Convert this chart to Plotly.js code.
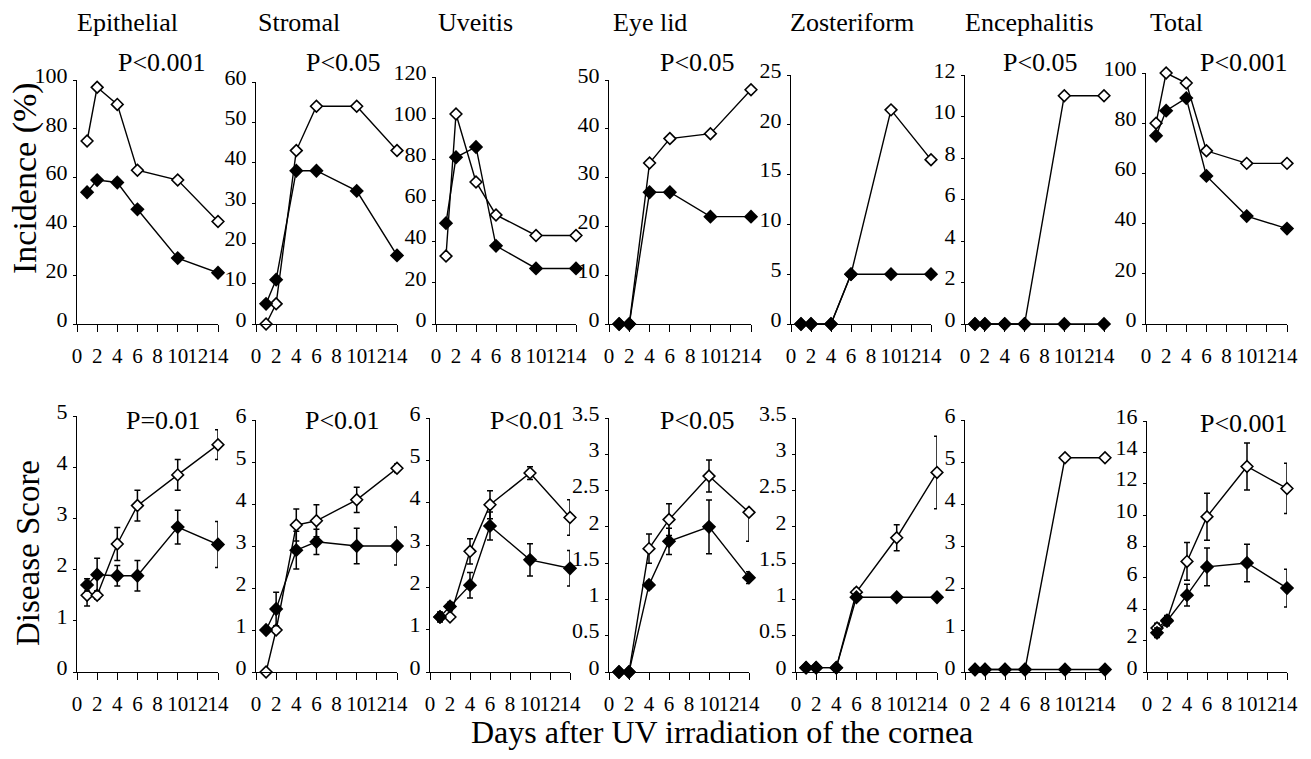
<!DOCTYPE html>
<html><head><meta charset="utf-8">
<script src="https://cdn.plot.ly/plotly-3.0.1.min.js"></script>
<style>
html,body{margin:0;padding:0;background:#fff}
#c{width:1311px;height:759px}
#c text{font-family:'Liberation Serif',serif !important;}
</style>
</head><body><div id="c"></div>
<script>
// ---------- DATA ----------
const days = [1, 2, 4, 6, 10, 14];
const xTicks = [0, 2, 4, 6, 8, 10, 12, 14];
const panelNames = ['Epithelial', 'Stromal', 'Uveitis', 'Eye lid', 'Zosteriform', 'Encephalitis', 'Total'];
const incPText = ['P<0.001', 'P<0.05', '', 'P<0.05', '', 'P<0.05', 'P<0.001'];
const dsPText = ['P=0.01', 'P<0.01', 'P<0.01', 'P<0.05', '', '', 'P<0.001'];
const incMax = [100, 60, 120, 50, 25, 12, 100];
const incStep = [20, 10, 20, 10, 5, 2, 20];
const dsMax = [5, 6, 6, 3.5, 3.5, 6, 16];
const dsStep = [1, 1, 1, 0.5, 0.5, 1, 2];

// Incidence (%) — open diamonds / filled diamonds
const incEpiOpen = [75, 97, 90, 63, 59, 42];
const incEpiFilled = [54, 59, 58, 47, 27, 21];
const incStrOpen = [0, 5, 43, 54, 54, 43];
const incStrFilled = [5, 11, 38, 38, 33, 17];
const incUveOpen = [33, 102, 69, 53, 43, 43];
const incUveFilled = [49, 81, 86, 38, 27, 27];
const incLidOpen = [0, 0, 33, 38, 39, 48];
const incLidFilled = [0, 0, 27, 27, 22, 22];
const incZosOpen = [0, 0, 0, 5, 21.5, 16.5];
const incZosFilled = [0, 0, 0, 5, 5, 5];
const incEncOpen = [0, 0, 0, 0, 11, 11];
const incEncFilled = [0, 0, 0, 0, 0, 0];
const incTotOpen = [80, 100, 96, 69, 64, 64];
const incTotFilled = [75, 85, 90, 59, 43, 38];

// Disease score — values and error bars (plus / minus)
const dsEpiOpen = [1.5, 1.5, 2.5, 3.25, 3.85, 4.44];
const dsEpiOpenErr = [0.21, 0.08, 0.32, 0.3, 0.3, 0.29];
const dsEpiFilled = [1.7, 1.9, 1.88, 1.88, 2.83, 2.49];
const dsEpiFilledErr = [0.12, 0.32, 0.2, 0.3, 0.33, 0.45];
const dsStrOpen = [0, 1.0, 3.5, 3.6, 4.1, 4.85];
const dsStrOpenErr = [0, 0.08, 0.38, 0.38, 0.3, 0.1];
const dsStrFilled = [1.0, 1.5, 2.9, 3.1, 3.0, 3.0];
const dsStrFilledErr = [0.05, 0.4, 0.45, 0.3, 0.42, 0.45];
const dsUveOpen = [1.3, 1.3, 2.85, 3.95, 4.7, 3.65];
const dsUveOpenErr = [0.1, 0.05, 0.3, 0.33, 0.15, 0.42];
const dsUveFilled = [1.3, 1.55, 2.05, 3.45, 2.65, 2.45];
const dsUveFilledErr = [0.12, 0.1, 0.3, 0.33, 0.38, 0.42];
const dsLidOpen = [0, 0, 1.7, 2.1, 2.7, 2.2];
const dsLidOpenErrPlus = [0, 0, 0.2, 0.22, 0.22, 0.05];
const dsLidOpenErrMinus = [0, 0, 0.2, 0.22, 0.22, 0.4];
const dsLidFilled = [0, 0, 1.2, 1.8, 2.0, 1.3];
const dsLidFilledErr = [0, 0, 0.05, 0.18, 0.37, 0.08];
const dsZosOpen = [0.06, 0.06, 0.06, 1.1, 1.85, 2.75];
const dsZosOpenErr = [0, 0, 0, 0.05, 0.18, 0.5];
const dsZosFilled = [0.06, 0.06, 0.06, 1.03, 1.03, 1.03];
const dsZosFilledErr = [0, 0, 0, 0.03, 0.03, 0.03];
const dsEncOpen = [0.06, 0.06, 0.06, 0.06, 5.1, 5.1];
const dsEncFilled = [0.06, 0.06, 0.06, 0.06, 0.06, 0.06];
const dsTotOpen = [2.8, 3.3, 7.05, 9.9, 13.1, 11.7];
const dsTotOpenErr = [0.3, 0.3, 1.2, 1.5, 1.5, 1.6];
const dsTotFilled = [2.5, 3.25, 4.9, 6.7, 6.95, 5.35];
const dsTotFilledErr = [0.3, 0.3, 0.7, 1.2, 1.2, 1.2];

// ---------- LAYOUT GEOMETRY (pixels) ----------
const W = 1311, H = 759;
const topX = [[77,218],[256,397],[436,576],[609,751],[791,931],[965,1104],[1146,1287]];
const botX = [[77,218],[256,397],[430,570],[609,749],[796,937],[965,1105],[1147,1287]];
const topT = [80, 82, 77, 80, 75, 75, 73], topB = 324;
const botT = [416, 420, 418, 418, 418, 420, 421], botB = 672;
const titleLeft = [75, 256, 436, 611, 788, 963, 1148];
const incPX = [162, 343, 0, 698, 0, 1040, 1244];
const dsPX = [163, 342, 527, 698, 0, 0, 1244];
const FONT = 'Liberation Serif';

const incPanels = [
  [incEpiOpen, incEpiFilled], [incStrOpen, incStrFilled], [incUveOpen, incUveFilled],
  [incLidOpen, incLidFilled], [incZosOpen, incZosFilled], [incEncOpen, incEncFilled],
  [incTotOpen, incTotFilled]
];
const dsPanels = [
  [dsEpiOpen, dsEpiFilled, dsEpiOpenErr, dsEpiOpenErr, dsEpiFilledErr],
  [dsStrOpen, dsStrFilled, dsStrOpenErr, dsStrOpenErr, dsStrFilledErr],
  [dsUveOpen, dsUveFilled, dsUveOpenErr, dsUveOpenErr, dsUveFilledErr],
  [dsLidOpen, dsLidFilled, dsLidOpenErrPlus, dsLidOpenErrMinus, dsLidFilledErr],
  [dsZosOpen, dsZosFilled, dsZosOpenErr, dsZosOpenErr, dsZosFilledErr],
  [dsEncOpen, dsEncFilled, null, null, null],
  [dsTotOpen, dsTotFilled, dsTotOpenErr, dsTotOpenErr, dsTotFilledErr]
];

const traces = [];
const layout = {
  width: W, height: H, margin: {l:0, r:0, t:0, b:0},
  paper_bgcolor: '#fff', plot_bgcolor: 'rgba(0,0,0,0)',
  showlegend: false, annotations: [],
  font: {family: FONT, color: '#000'}
};

function errObj(plus, minus) {
  if (!plus) return {visible:false};
  return {type:'data', symmetric:false, array:plus, arrayminus:minus, visible:true,
          color:'#000', thickness:1.5, width:3};
}

function addPanel(k, open, filled, eop, eom, ef, xd, top, bot, ymax, step) {
  const s = k === 1 ? '' : String(k);
  traces.push({type:'scatter', mode:'lines+markers', x:days, y:open, xaxis:'x'+s, yaxis:'y'+s,
    cliponaxis:false, hoverinfo:'skip',
    line:{color:'#000', width:1.4},
    marker:{symbol:'diamond', size:9, color:'#fff', line:{color:'#000', width:1.6}},
    error_y: errObj(eop, eom)});
  traces.push({type:'scatter', mode:'lines+markers', x:days, y:filled, xaxis:'x'+s, yaxis:'y'+s,
    cliponaxis:false, hoverinfo:'skip',
    line:{color:'#000', width:1.4},
    marker:{symbol:'diamond', size:11, color:'#000', line:{color:'#000', width:0}},
    error_y: errObj(ef, ef)});
  layout['xaxis'+s] = {domain:[xd[0]/W, xd[1]/W], anchor:'y'+s, range:[0,14],
    tickmode:'array', tickvals:xTicks, ticktext:xTicks.map(String), tickangle:0,
    ticks:'outside', ticklen:7, tickwidth:1, tickcolor:'#000',
    showline:true, linecolor:'#000', linewidth:1, showgrid:false, zeroline:false,
    ticklabelstandoff:6, tickfont:{family:FONT, size:21, color:'#000'}, fixedrange:true};
  layout['yaxis'+s] = {domain:[1-bot/H, 1-top/H], anchor:'x'+s, range:[0,ymax],
    tickmode:'linear', tick0:0, dtick:step,
    ticks:'outside', ticklen:3, tickwidth:1, tickcolor:'#000',
    showline:true, linecolor:'#000', linewidth:1, showgrid:false, zeroline:false,
    ticklabelshift:-5, ticklabelstandoff:1,
    tickfont:{family:FONT, size:22, color:'#000'}, fixedrange:true};
}

for (let i = 0; i < 7; i++) {
  addPanel(i+1, incPanels[i][0], incPanels[i][1], null, null, null,
           topX[i], topT[i], topB, incMax[i], incStep[i]);
  const d = dsPanels[i];
  addPanel(i+8, d[0], d[1], d[2], d[3], d[4], botX[i], botT[i], botB, dsMax[i], dsStep[i]);
  layout.annotations.push({text:panelNames[i], xref:'paper', yref:'paper',
    x:titleLeft[i]/W, y:1-23/H, xanchor:'left', yanchor:'middle', showarrow:false,
    font:{family:FONT, size:26, color:'#000'}});
  if (incPText[i]) layout.annotations.push({text:incPText[i], xref:'paper', yref:'paper',
    x:incPX[i]/W, y:1-62/H, xanchor:'center', yanchor:'middle', showarrow:false,
    font:{family:FONT, size:26, color:'#000'}});
  if (dsPText[i]) layout.annotations.push({text:dsPText[i], xref:'paper', yref:'paper',
    x:dsPX[i]/W, y:1-(i===6?423:420)/H, xanchor:'center', yanchor:'middle', showarrow:false,
    font:{family:FONT, size:26, color:'#000'}});
}

layout.annotations.push({text:'Incidence (%)', xref:'paper', yref:'paper', x:25/W, y:1-178/H,
  textangle:-90, xanchor:'center', yanchor:'middle', showarrow:false,
  font:{family:FONT, size:34, color:'#000'}});
layout.annotations.push({text:'Disease Score', xref:'paper', yref:'paper', x:28/W, y:1-553/H,
  textangle:-90, xanchor:'center', yanchor:'middle', showarrow:false,
  font:{family:FONT, size:33, color:'#000'}});
layout.annotations.push({text:'Days after UV irradiation of the cornea', xref:'paper', yref:'paper',
  x:722/W, y:1-732/H, xanchor:'center', yanchor:'middle', showarrow:false,
  font:{family:FONT, size:32, color:'#000'}});

Plotly.newPlot('c', traces, layout, {staticPlot:true, displayModeBar:false});
</script>
</body></html>
